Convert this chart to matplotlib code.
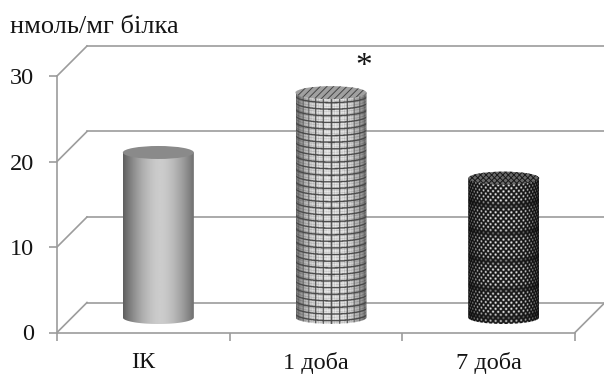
import numpy as np
import matplotlib
matplotlib.use("Agg")
import matplotlib.pyplot as plt
from matplotlib.patches import Ellipse, PathPatch
from matplotlib.path import Path

plt.rcParams["font.family"] = ["Liberation Serif", "DejaVu Serif"]
plt.rcParams["hatch.linewidth"] = 0.7

# Chart content
categories = ["ІК", "1 доба", "7 доба"]
values = [19.3, 26.3, 16.3]
y_ticks = [0, 10, 20, 30]
y_unit = "нмоль/мг білка"
significance_mark = "*"
textures = ["smooth", "grid", "dots"]

W, H = 604, 374
AX_L, AX_R, AX_B, AX_T = 57, 575, 332.5, 76
GREY = "#9c9c9c"
INK = "#141414"

fig = plt.figure(figsize=(W / 100, H / 100), dpi=100, facecolor="white")
ax = fig.add_axes([AX_L / W, 1 - AX_B / H, (AX_R - AX_L) / W, (AX_B - AX_T) / H])
ax.set_xlim(-0.5, 2.5)
ax.set_ylim(0, 30)
ax.patch.set_alpha(0)

px_x = (AX_R - AX_L) / 3.0      # pixels per category
px_y = (AX_B - AX_T) / 30.0     # pixels per value unit

# Oblique depth of the floor, and the cylinder proportions
depth_x = 30 / px_x
depth_y = 30 / px_y
radius_px = 35.5
ry_px = 6.5
radius = radius_px / px_x
ry = ry_px / px_y


def surface_texture(kind, height_px):
    """Greyscale image of a cylinder wall, sampled at three times screen resolution."""
    ss = 3
    nx = int(2 * radius_px * ss)
    ny = int((height_px + 2 * ry_px) * ss)
    xs = (np.arange(nx) + 0.5) / nx * 2 - 1
    ys = (np.arange(ny) + 0.5) / ss - ry_px
    u, y_up = np.meshgrid(xs, ys[::-1])
    bulge = ry_px * np.sqrt(np.clip(1 - u ** 2, 0, 1))
    along = y_up + bulge
    arc = np.arcsin(np.clip(u, -1, 1)) * radius_px
    if kind == "smooth":
        img = 0.80 - 0.40 * np.abs(u - 0.05) ** 1.7
    elif kind == "grid":
        shade = 0.92 - 0.45 * np.abs(u) ** 3
        img = shade.copy()
        # faint weave between the heavier lines
        img -= 0.16 * (np.abs((arc + 1.3) % 2.7 - 1.35) < 0.3)
        img -= 0.16 * (np.abs(along % 2.7 - 1.35) < 0.3)
        vert = np.abs((arc + 4.1) % 8.2 - 4.1) < 0.75
        horiz = np.abs(along % 6.6 - 3.3) < 0.7
        img[vert] = 0.34
        img[horiz] = 0.27
    else:
        base = 0.04 + 0.06 * (1 - np.abs(u) ** 2)
        row = 3.0
        col = 5.3
        rows = np.round(along / row)
        offset = (rows % 2) * col / 2
        cols = np.round((arc - offset) / col)
        dist = np.hypot(arc - offset - cols * col, along - rows * row)
        hole = np.clip(1.75 - dist * 1.15, 0, 1)
        # narrow darker bands where the weave falls out of step
        band = 0.5 + 0.5 * np.cos(2 * np.pi * (along - 6) / 28.0)
        strength = np.clip(1.0 - band ** 10 * 0.6, 0.35, 1)
        fade = 1 - 0.65 * np.abs(u) ** 3
        img = base + hole * 0.85 * strength * fade
    return np.clip(img, 0, 1)


# Back wall and floor
for tick in y_ticks:
    ax.plot([-0.5, -0.5 + depth_x], [tick, tick + depth_y], color=GREY, lw=1.2, clip_on=False, zorder=1)
    ax.plot([-0.5 + depth_x, 2.5 + depth_x], [tick + depth_y, tick + depth_y],
            color=GREY, lw=1.2, clip_on=False, zorder=1)
ax.plot([2.5, 2.5 + depth_x], [0, depth_y], color=GREY, lw=1.2, clip_on=False, zorder=1)

# Cylinders
for i, (val, kind) in enumerate(zip(values, textures)):
    cx = i + depth_x / 2
    base = depth_y / 2
    top = val + depth_y / 2
    x0, x1 = cx - radius, cx + radius
    img = surface_texture(kind, (top - base) * px_y)
    im = ax.imshow(img, cmap="gray", vmin=0, vmax=1, aspect="auto", origin="upper",
                   extent=(x0, x1, base - ry, top + ry), interpolation="antialiased",
                   zorder=3)
    t = np.linspace(np.pi, 2 * np.pi, 60)
    outline = np.vstack([[x0, top],
                         np.column_stack([cx + radius * np.cos(t), base + ry * np.sin(t)]),
                         [x1, top], [x0, top]])
    clip = PathPatch(Path(outline), transform=ax.transData, facecolor="none", edgecolor="none")
    ax.add_patch(clip)
    im.set_clip_path(clip)
    im.set_clip_on(True)

    lid = Ellipse((cx, top), 2 * radius, 2 * ry, zorder=4, clip_on=False,
                  facecolor={"smooth": "#8a8a8a", "grid": "#a0a0a0", "dots": "#6a6a6a"}[kind],
                  edgecolor="none")
    ax.add_patch(lid)
    if kind == "grid":
        lid_hatch = Ellipse((cx, top), 2 * radius, 2 * ry, zorder=5, clip_on=False,
                            facecolor="none", edgecolor="#454545", lw=0)
        lid_hatch.set_hatch("/////")
        ax.add_patch(lid_hatch)
    elif kind == "dots":
        lid_hatch = Ellipse((cx, top), 2 * radius, 2 * ry, zorder=5, clip_on=False,
                            facecolor="none", edgecolor="#1a1a1a", lw=0)
        lid_hatch.set_hatch("xxxxxx")
        ax.add_patch(lid_hatch)

# Axes, ticks and labels
for name in ("top", "right"):
    ax.spines[name].set_visible(False)
for name in ("left", "bottom"):
    ax.spines[name].set_color(GREY)
    ax.spines[name].set_linewidth(1.2)
    ax.spines[name].set_zorder(2)

ax.set_yticks(y_ticks)
ax.set_yticklabels([str(v) for v in y_ticks], fontsize=17.5, color=INK)
ax.tick_params(axis="y", length=5.8, width=1.2, color=GREY, pad=11)

ax.set_xticks(np.arange(len(categories) + 1) - 0.5)
ax.set_xticklabels([])
ax.set_xticks(np.arange(len(categories)), minor=True)
ax.set_xticklabels(categories, minor=True, fontsize=17.5, color=INK)
ax.tick_params(axis="x", which="major", length=5.8, width=1.2, color=GREY)
ax.tick_params(axis="x", which="minor", length=0, pad=14.3)

fig.text(10 / W, 1 - 33 / H, y_unit, fontsize=19, color=INK, ha="left", va="baseline")
ax.text(1 + 0.19 + 0.087, values[1] + 4.8, significance_mark, fontsize=24, color=INK,
        ha="center", va="center", clip_on=False)

fig.savefig("out.png", dpi=100, facecolor="white")
